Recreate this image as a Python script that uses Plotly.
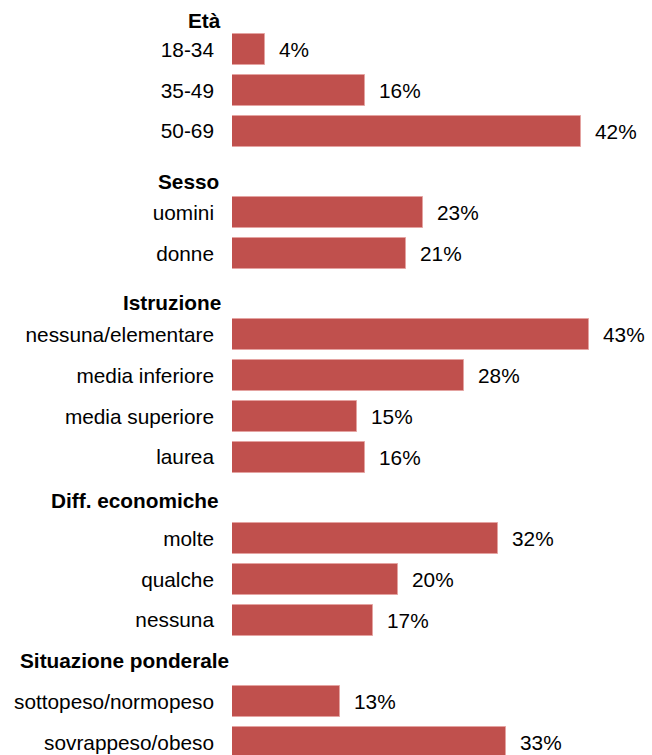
import plotly.graph_objects as go

# Group headings and their categories / percentages
groups = ["Età", "Sesso", "Istruzione", "Diff. economiche", "Situazione ponderale"]

eta_labels = ["18-34", "35-49", "50-69"]
eta_values = [4, 16, 42]

sesso_labels = ["uomini", "donne"]
sesso_values = [23, 21]

istruzione_labels = ["nessuna/elementare", "media inferiore", "media superiore", "laurea"]
istruzione_values = [43, 28, 15, 16]

diff_labels = ["molte", "qualche", "nessuna"]
diff_values = [32, 20, 17]

peso_labels = ["sottopeso/normopeso", "sovrappeso/obeso"]
peso_values = [13, 33]

group_labels = [eta_labels, sesso_labels, istruzione_labels, diff_labels, peso_labels]
group_values = [eta_values, sesso_values, istruzione_values, diff_values, peso_values]

# ---- build row positions: one row for each heading, then one per category
header_rows = []
bar_rows, bar_labels, bar_values = [], [], []
row = 0
for name, labels, values in zip(groups, group_labels, group_values):
    header_rows.append(row)
    row += 1
    for lab, val in zip(labels, values):
        bar_rows.append(row)
        bar_labels.append(lab)
        bar_values.append(val)
        row += 1

FONT = "Liberation Sans, Arial, sans-serif"
FS = 20.8
BAR_COLOR = "#C0504D"

W, H = 652, 755
ML, MR = 232, 5
PX_PER_UNIT = 8.3
PITCH = 40.76
FIRST_CENTER = 8.8

fig = go.Figure(
    go.Bar(
        x=bar_values,
        y=bar_rows,
        orientation="h",
        width=0.76,
        marker=dict(color=BAR_COLOR, line=dict(color="#E4A3A1", width=1)),
        hoverinfo="skip",
    )
)

annotations = []
# value labels right of each bar
for r, v in zip(bar_rows, bar_values):
    annotations.append(dict(
        x=v, y=r, xref="x", yref="y", text=f"{v}%", showarrow=False,
        xanchor="left", yanchor="middle", xshift=12,
        font=dict(family=FONT, size=FS, color="#000000"),
    ))

# bold group headings (right edge in px from left of plot, vertical offset in px)
heading_style = {
    "Età": (-9, -12),
    "Sesso": (-11, -10),
    "Istruzione": (-9, -8),
    "Diff. economiche": (-11, -3),
    "Situazione ponderale": (-1, 0),
}
for name, r in zip(groups, header_rows):
    dx, dy = heading_style[name]
    annotations.append(dict(
        x=0, y=r, xref="paper", yref="y", text=f"<b>{name}</b>", showarrow=False,
        xanchor="right", yanchor="middle", xshift=dx, yshift=dy,
        font=dict(family=FONT, size=FS, color="#000000"),
    ))

plot_w = W - ML - MR
y_top = -FIRST_CENTER / PITCH
y_bottom = y_top + H / PITCH

fig.update_layout(
    width=W, height=H,
    margin=dict(l=ML, r=MR, t=0, b=0, autoexpand=False),
    paper_bgcolor="white", plot_bgcolor="white",
    showlegend=False,
    bargap=0,
    font=dict(family=FONT, size=FS, color="#000000"),
    xaxis=dict(range=[0, plot_w / PX_PER_UNIT], visible=False, fixedrange=True),
    yaxis=dict(
        range=[y_bottom, y_top],
        tickmode="array", tickvals=bar_rows, ticktext=bar_labels,
        ticks="", showgrid=False, zeroline=False, showline=False,
        ticklabelstandoff=17,
        tickfont=dict(family=FONT, size=FS, color="#000000"),
        fixedrange=True,
    ),
    annotations=annotations,
)

fig.write_html("out.html")
